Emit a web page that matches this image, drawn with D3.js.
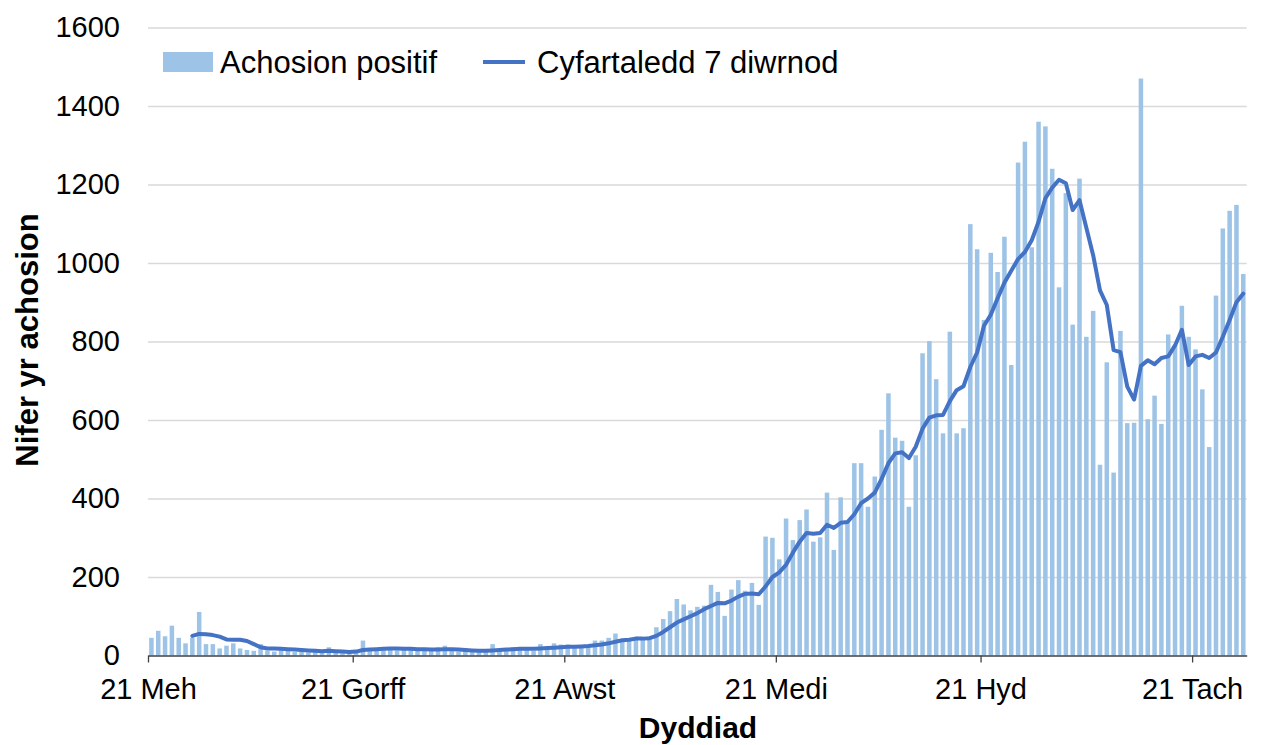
<!DOCTYPE html>
<html>
<head>
<meta charset="utf-8">
<script src="https://cdn.jsdelivr.net/npm/d3@7"></script>
<style>
  body { margin: 0; background: #fff; }
  text { font-family: "Liberation Sans", Arial, sans-serif; }
</style>
</head>
<body>
<script>
// Canvas setup
const canvasWidth = 1263;
const canvasHeight = 745;

// Data (one value per day from 21 June)
const startDay = Date.UTC(2021, 5, 21);
const positiveCases = [
  45, 63, 49, 76, 45, 31, 45, 111, 29, 29, 18, 25, 31, 18, 14, 12, 29, 12, 10, 14,
  12, 9, 10, 8, 9, 7, 21, 8, 6, 5, 9, 38, 14, 18, 17, 20, 13, 18, 21, 14,
  12, 14, 21, 25, 12, 10, 11, 9, 10, 12, 29, 12, 18, 21, 14, 16, 12, 29, 18, 31,
  28, 28, 24, 22, 25, 38, 38, 45, 56, 40, 40, 48, 45, 48, 72, 93, 113, 144, 130, 115,
  124, 127, 180, 162, 101, 168, 192, 165, 185, 129, 303, 300, 245, 349, 294, 345, 372, 290, 301, 415,
  269, 403, 340, 490, 490, 379, 456, 575, 668, 555, 547, 379, 510, 770, 801, 704, 566, 825, 566, 579,
  1099, 1035, 855, 1026, 977, 1067, 740, 1256, 1309, 1040, 1360, 1348, 1240, 938, 1178, 843, 1215, 812, 878, 486,
  747, 466, 827, 592, 593, 1470, 602, 662, 590, 818, 790, 891, 812, 780, 678, 531, 917, 1088, 1133, 1148,
  972
];
const sevenDayAverage = [
  null, null, null, null, null, null, 50, 55, 54, 52, 48, 41, 40, 40, 37, 29, 21, 18, 18, 17,
  16, 15, 14, 13, 12, 11, 12, 11, 10, 9, 10, 14, 15, 16, 17, 18, 18, 17, 17, 16,
  16, 15, 15, 16, 16, 15, 14, 13, 12, 12, 13, 14, 15, 16, 17, 17, 17, 18, 19, 20,
  21, 22, 22, 23, 24, 26, 28, 31, 35, 39, 40, 43, 43, 44, 50, 60, 72, 84, 92, 100,
  108, 118, 126, 134, 133, 140, 150, 157, 158, 156, 176, 200, 212, 231, 262, 290, 312, 310, 312, 333,
  325, 338, 340, 360, 388, 400, 415, 450, 490, 515, 518, 503, 532, 578, 606, 612, 613, 648, 676, 686,
  735, 772, 840, 868, 910, 950, 980, 1010, 1028, 1058, 1105, 1165, 1192, 1212, 1203, 1135, 1160, 1090, 1020, 930,
  893, 778, 773, 685, 652, 738, 752, 742, 758, 762, 790, 830, 740, 762, 766, 758, 772, 812, 855, 900,
  922
];
const tickDates = [
  Date.UTC(2021, 5, 21), Date.UTC(2021, 6, 21), Date.UTC(2021, 7, 21),
  Date.UTC(2021, 8, 21), Date.UTC(2021, 9, 21), Date.UTC(2021, 10, 21)
];
const tickLabels = ["21 Meh", "21 Gorff", "21 Awst", "21 Medi", "21 Hyd", "21 Tach"];
const yTicks = [0, 200, 400, 600, 800, 1000, 1200, 1400, 1600];

const barColor = "#9dc3e6";
const lineColor = "#4472c4";

const svg = d3.select('body')
  .append('svg')
  .attr('width', canvasWidth)
  .attr('height', canvasHeight);

svg.append('rect')
  .attr('width', canvasWidth)
  .attr('height', canvasHeight)
  .attr('fill', '#fff');

let margins = {
  top: 27.5,
  bottom: canvasHeight - 655.5,
  left: 148,
  right: canvasWidth - 1246.7
};

let plotWidth = canvasWidth - margins.left - margins.right;
let plotHeight = canvasHeight - margins.top - margins.bottom;

let days = positiveCases.map((v, i) => d3.utcDay.offset(new Date(startDay), i));

let xScale = d3.scaleUtc()
  .domain([new Date(startDay), d3.utcDay.offset(new Date(startDay), positiveCases.length)])
  .range([0, plotWidth]);

let yScale = d3.scaleLinear()
  .domain([0, 1600])
  .range([plotHeight, 0]);

let plotGroup = svg.append('g')
  .attr('transform', `translate(${margins.left},${margins.top})`);

// gridlines
plotGroup.append('g')
  .call(d3.axisLeft(yScale).tickValues(yTicks.slice(1)).tickSize(-plotWidth).tickFormat(''))
  .call(g => g.select('.domain').remove())
  .call(g => g.selectAll('line').attr('stroke', '#d9d9d9').attr('stroke-width', 1.3));

// y labels
plotGroup.append('g')
  .call(d3.axisLeft(yScale).tickValues(yTicks).tickSize(0).tickPadding(28).tickFormat(d3.format('d')))
  .call(g => g.select('.domain').remove())
  .call(g => g.selectAll('text')
    .attr('font-size', 29)
    .attr('fill', '#000')
    .attr('font-family', '"Liberation Sans", Arial, sans-serif'));

// bars
let dayWidth = plotWidth / positiveCases.length;
let barWidth = dayWidth * 0.66;

plotGroup.append('g')
  .selectAll('rect')
  .data(positiveCases)
  .join('rect')
  .attr('x', (d, i) => xScale(days[i]) + (dayWidth - barWidth) / 2)
  .attr('y', d => yScale(d))
  .attr('width', barWidth)
  .attr('height', d => plotHeight - yScale(d))
  .attr('fill', barColor);

// 7-day average line
let lineFn = d3.line()
  .defined(d => d != null)
  .x((d, i) => xScale(days[i]) + dayWidth / 2)
  .y(d => yScale(d));

plotGroup.append('path')
  .attr('d', lineFn(sevenDayAverage))
  .attr('fill', 'none')
  .attr('stroke', lineColor)
  .attr('stroke-width', 4)
  .attr('stroke-linejoin', 'round')
  .attr('stroke-linecap', 'round');

// x axis
plotGroup.append('g')
  .attr('transform', `translate(0,${plotHeight})`)
  .call(d3.axisBottom(xScale)
    .tickValues(tickDates.map(t => new Date(t)))
    .tickFormat((d, i) => tickLabels[i])
    .tickSize(7)
    .tickSizeOuter(0)
    .tickPadding(16))
  .call(g => g.select('.domain').attr('stroke', '#404040').attr('stroke-width', 1.3))
  .call(g => g.selectAll('line').attr('stroke', '#404040').attr('stroke-width', 1.3))
  .call(g => g.selectAll('text')
    .attr('font-size', 29)
    .attr('fill', '#000')
    .attr('font-family', '"Liberation Sans", Arial, sans-serif'));

// axis titles
svg.append('text')
  .attr('x', 698)
  .attr('y', 738)
  .attr('text-anchor', 'middle')
  .attr('font-size', 30)
  .attr('font-weight', 'bold')
  .text('Dyddiad');

svg.append('text')
  .attr('transform', 'translate(38,340) rotate(-90)')
  .attr('text-anchor', 'middle')
  .attr('font-size', 31)
  .attr('font-weight', 'bold')
  .text('Nifer yr achosion');

// legend
let legend = svg.append('g');
legend.append('rect')
  .attr('x', 163).attr('y', 52)
  .attr('width', 50).attr('height', 20)
  .attr('fill', barColor);
legend.append('text')
  .attr('x', 220).attr('y', 73)
  .attr('font-size', 31)
  .text('Achosion positif');
legend.append('line')
  .attr('x1', 483).attr('x2', 525)
  .attr('y1', 62).attr('y2', 62)
  .attr('stroke', lineColor)
  .attr('stroke-width', 4);
legend.append('text')
  .attr('x', 537).attr('y', 73)
  .attr('font-size', 31)
  .text('Cyfartaledd 7 diwrnod');
</script>
</body>
</html>
